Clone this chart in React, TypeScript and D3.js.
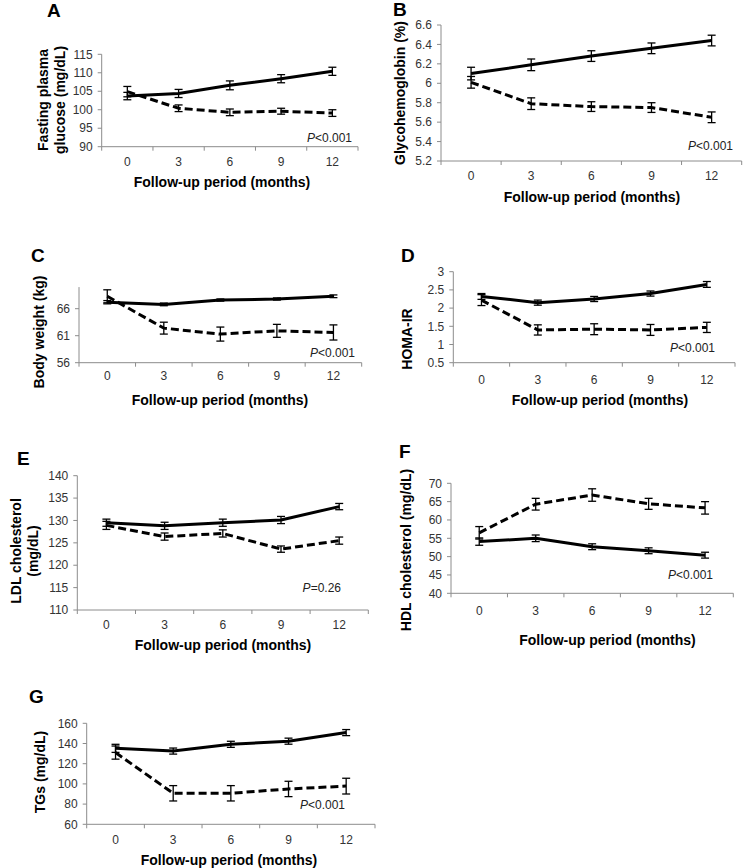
import React from "react";
import * as d3 from "d3";

// ---------- DATA ----------
const months = ["0", "3", "6", "9", "12"];

const glucoseControl = [103.7, 104.4, 106.6, 108.4, 110.4];
const glucoseControlErr = [1.0, 1.1, 1.2, 1.1, 1.1];
const glucoseDiet = [104.9, 100.4, 99.3, 99.6, 99.1];
const glucoseDietErr = [1.4, 0.9, 0.9, 0.8, 0.9];

const hba1cControl = [6.10, 6.19, 6.28, 6.36, 6.44];
const hba1cControlErr = [0.065, 0.06, 0.055, 0.055, 0.055];
const hba1cDiet = [6.01, 5.79, 5.76, 5.75, 5.65];
const hba1cDietErr = [0.06, 0.06, 0.05, 0.05, 0.055];

const weightControl = [67.2, 66.8, 67.6, 67.8, 68.3];
const weightControlErr = [0.3, 0.25, 0.2, 0.2, 0.25];
const weightDiet = [68.3, 62.4, 61.3, 61.9, 61.6];
const weightDietErr = [1.2, 1.1, 1.3, 1.2, 1.4];

const homaControl = [2.32, 2.15, 2.25, 2.40, 2.65];
const homaControlErr = [0.08, 0.07, 0.07, 0.07, 0.08];
const homaDiet = [2.22, 1.40, 1.42, 1.40, 1.47];
const homaDietErr = [0.15, 0.14, 0.15, 0.15, 0.14];

const ldlControl = [129.5, 128.8, 129.5, 130.1, 133.1];
const ldlControlErr = [0.8, 0.8, 0.8, 0.8, 0.7];
const ldlDiet = [128.9, 126.4, 127.1, 123.6, 125.5];
const ldlDietErr = [0.9, 0.8, 0.8, 0.7, 0.8];

const hdlControl = [54.1, 55.0, 52.7, 51.6, 50.4];
const hdlControlErr = [1.0, 0.9, 0.8, 0.8, 0.8];
const hdlDiet = [56.5, 64.3, 66.8, 64.4, 63.3];
const hdlDietErr = [1.7, 1.6, 1.7, 1.5, 1.7];

const tgControl = [135.2, 132.5, 139.2, 142.3, 150.8];
const tgControlErr = [4.0, 3.0, 3.0, 3.0, 3.0];
const tgDiet = [131.0, 90.7, 90.7, 95.0, 97.8];
const tgDietErr = [6.5, 7.6, 7.6, 7.6, 7.8];

const glucoseTicks = [90, 95, 100, 105, 110, 115];
const hba1cTicks = [5.2, 5.4, 5.6, 5.8, 6.0, 6.2, 6.4, 6.6];
const weightTicks = [56, 61, 66];
const homaTicks = [0.5, 1, 1.5, 2, 2.5, 3];
const ldlTicks = [110, 115, 120, 125, 130, 135, 140];
const hdlTicks = [40, 45, 50, 55, 60, 65, 70];
const tgTicks = [60, 80, 100, 120, 140, 160];

const xTitle = "Follow-up period (months)";

// ---------- LAYOUT ----------
type PanelDef = {
  letter: string;
  letterX: number;
  letterY: number;
  xL: number;
  xR: number;
  yTop: number;
  yBot: number;
  domain: [number, number];
  ticks: number[];
  control: number[];
  controlErr: number[];
  diet: number[];
  dietErr: number[];
  tickLabelY: number;
  titleX: number;
  titleY: number;
  yTitle: string[];
  yTitleX: number[];
  yTitleCY: number;
  pPrefix: string;
  pRest: string;
  pX: number;
  pY: number;
};

const panels: PanelDef[] = [
  {
    letter: "A", letterX: 47, letterY: 17,
    xL: 101.7, xR: 358, yTop: 54.3, yBot: 146.7, domain: [90, 115], ticks: glucoseTicks,
    control: glucoseControl, controlErr: glucoseControlErr, diet: glucoseDiet, dietErr: glucoseDietErr,
    tickLabelY: 166, titleX: 222, titleY: 187,
    yTitle: ["Fasting plasma", "glucose (mg/dL)"], yTitleX: [43, 60], yTitleCY: 100,
    pPrefix: "P", pRest: "<0.001", pX: 352, pY: 142,
  },
  {
    letter: "B", letterX: 393, letterY: 16,
    xL: 441, xR: 741.7, yTop: 25, yBot: 161, domain: [5.2, 6.6], ticks: hba1cTicks,
    control: hba1cControl, controlErr: hba1cControlErr, diet: hba1cDiet, dietErr: hba1cDietErr,
    tickLabelY: 180, titleX: 592, titleY: 201.5,
    yTitle: ["Glycohemoglobin (%)"], yTitleX: [400], yTitleCY: 93,
    pPrefix: "P", pRest: "<0.001", pX: 733, pY: 150,
  },
  {
    letter: "C", letterX: 31, letterY: 262,
    xL: 79, xR: 361.7, yTop: 287.1, yBot: 362.7, domain: [56, 70], ticks: weightTicks,
    control: weightControl, controlErr: weightControlErr, diet: weightDiet, dietErr: weightDietErr,
    tickLabelY: 380, titleX: 220, titleY: 405,
    yTitle: ["Body weight (kg)"], yTitleX: [39], yTitleCY: 332,
    pPrefix: "P", pRest: "<0.001", pX: 355, pY: 356.5,
  },
  {
    letter: "D", letterX: 401, letterY: 262,
    xL: 453.3, xR: 735, yTop: 271.7, yBot: 362.7, domain: [0.5, 3], ticks: homaTicks,
    control: homaControl, controlErr: homaControlErr, diet: homaDiet, dietErr: homaDietErr,
    tickLabelY: 384, titleX: 600, titleY: 405,
    yTitle: ["HOMA-IR"], yTitleX: [406.5], yTitleCY: 339,
    pPrefix: "P", pRest: "<0.001", pX: 715, pY: 351.5,
  },
  {
    letter: "E", letterX: 17, letterY: 465,
    xL: 77.3, xR: 368.3, yTop: 475.7, yBot: 610, domain: [110, 140], ticks: ldlTicks,
    control: ldlControl, controlErr: ldlControlErr, diet: ldlDiet, dietErr: ldlDietErr,
    tickLabelY: 629, titleX: 223, titleY: 650,
    yTitle: ["LDL cholesterol", "(mg/dL)"], yTitleX: [16, 33], yTitleCY: 551,
    pPrefix: "P", pRest: "=0.26", pX: 341, pY: 592,
  },
  {
    letter: "F", letterX: 399, letterY: 458,
    xL: 451, xR: 733.3, yTop: 483.3, yBot: 593.3, domain: [40, 70], ticks: hdlTicks,
    control: hdlControl, controlErr: hdlControlErr, diet: hdlDiet, dietErr: hdlDietErr,
    tickLabelY: 615, titleX: 607.5, titleY: 645,
    yTitle: ["HDL cholesterol (mg/dL)"], yTitleX: [406], yTitleCY: 550,
    pPrefix: "P", pRest: "<0.001", pX: 713, pY: 579,
  },
  {
    letter: "G", letterX: 29, letterY: 703,
    xL: 86.7, xR: 375, yTop: 723.3, yBot: 824.3, domain: [60, 160], ticks: tgTicks,
    control: tgControl, controlErr: tgControlErr, diet: tgDiet, dietErr: tgDietErr,
    tickLabelY: 843.5, titleX: 229, titleY: 865,
    yTitle: ["TGs (mg/dL)"], yTitleX: [39.5], yTitleCY: 772,
    pPrefix: "P", pRest: "<0.001", pX: 345, pY: 809,
  },
];

const FONT = "'Liberation Sans', Arial, Helvetica, sans-serif";
const AXIS = "#8c8c8c";

function fmt(v: number) {
  return String(+v.toFixed(1));
}

function Panel({ p }: { p: PanelDef }) {
  const x = d3.scaleBand<string>().domain(months).range([p.xL, p.xR]).padding(0);
  const y = d3.scaleLinear().domain(p.domain).range([p.yBot, p.yTop]);
  const cx = (m: string) => (x(m) as number) + x.bandwidth() / 2;
  const line = d3
    .line<number>()
    .x((_, i) => cx(months[i]))
    .y((d) => y(d));
  const boundaries = months.map((m) => x(m) as number).concat([p.xR]);

  const errBars = (vals: number[], errs: number[], key: string) =>
    vals.map((v, i) => {
      const xc = cx(months[i]);
      const y1 = y(v - errs[i]);
      const y2 = y(v + errs[i]);
      return (
        <g key={key + i} stroke="#000" strokeWidth={1.3}>
          <line x1={xc} x2={xc} y1={y1} y2={y2} />
          <line x1={xc - 4} x2={xc + 4} y1={y1} y2={y1} />
          <line x1={xc - 4} x2={xc + 4} y1={y2} y2={y2} />
        </g>
      );
    });

  return (
    <g>
      <text x={p.letterX} y={p.letterY} fontFamily={FONT} fontWeight="bold" fontSize={19} fill="#000">
        {p.letter}
      </text>
      {/* axes */}
      <line x1={p.xL} x2={p.xL} y1={p.yTop} y2={p.yBot} stroke={AXIS} strokeWidth={1} />
      <line x1={p.xL} x2={p.xR} y1={p.yBot} y2={p.yBot} stroke={AXIS} strokeWidth={1} />
      {p.ticks.map((t) => (
        <g key={"yt" + t}>
          <line x1={p.xL - 4} x2={p.xL} y1={y(t)} y2={y(t)} stroke={AXIS} strokeWidth={1} />
          <text
            x={p.xL - 9}
            y={y(t)}
            dy="0.35em"
            textAnchor="end"
            fontFamily={FONT}
            fontSize={12}
            fill="#333"
          >
            {fmt(t)}
          </text>
        </g>
      ))}
      {boundaries.map((b, i) => (
        <line key={"xt" + i} x1={b} x2={b} y1={p.yBot} y2={p.yBot + 4} stroke={AXIS} strokeWidth={1} />
      ))}
      {months.map((m) => (
        <text
          key={"xl" + m}
          x={cx(m)}
          y={p.tickLabelY}
          textAnchor="middle"
          fontFamily={FONT}
          fontSize={12}
          fill="#333"
        >
          {m}
        </text>
      ))}
      <text x={p.titleX} y={p.titleY} textAnchor="middle" fontFamily={FONT} fontWeight="bold" fontSize={14} fill="#000">
        {xTitle}
      </text>
      {p.yTitle.map((t, i) => (
        <text
          key={"yti" + i}
          transform={`translate(${p.yTitleX[i]},${p.yTitleCY}) rotate(-90)`}
          textAnchor="middle"
          dominantBaseline="central"
          fontFamily={FONT}
          fontWeight="bold"
          fontSize={14}
          fill="#000"
        >
          {t}
        </text>
      ))}
      {/* series */}
      {errBars(p.control, p.controlErr, "ec")}
      {errBars(p.diet, p.dietErr, "ed")}
      <path d={line(p.control) || ""} fill="none" stroke="#000" strokeWidth={3} strokeLinejoin="round" />
      <path
        d={line(p.diet) || ""}
        fill="none"
        stroke="#000"
        strokeWidth={3}
        strokeDasharray="8,4"
      />
      <text x={p.pX} y={p.pY} textAnchor="end" fontFamily={FONT} fontSize={12} fill="#222">
        <tspan fontStyle="italic">{p.pPrefix}</tspan>
        <tspan>{p.pRest}</tspan>
      </text>
    </g>
  );
}

export default function App() {
  return (
    <svg
      width={743}
      height={868}
      viewBox="0 0 743 868"
      style={{ position: "absolute", left: 0, top: 0, background: "#fff" }}
    >
      <rect x={0} y={0} width={743} height={868} fill="#fff" />
      {panels.map((p) => (
        <Panel key={p.letter} p={p} />
      ))}
    </svg>
  );
}
